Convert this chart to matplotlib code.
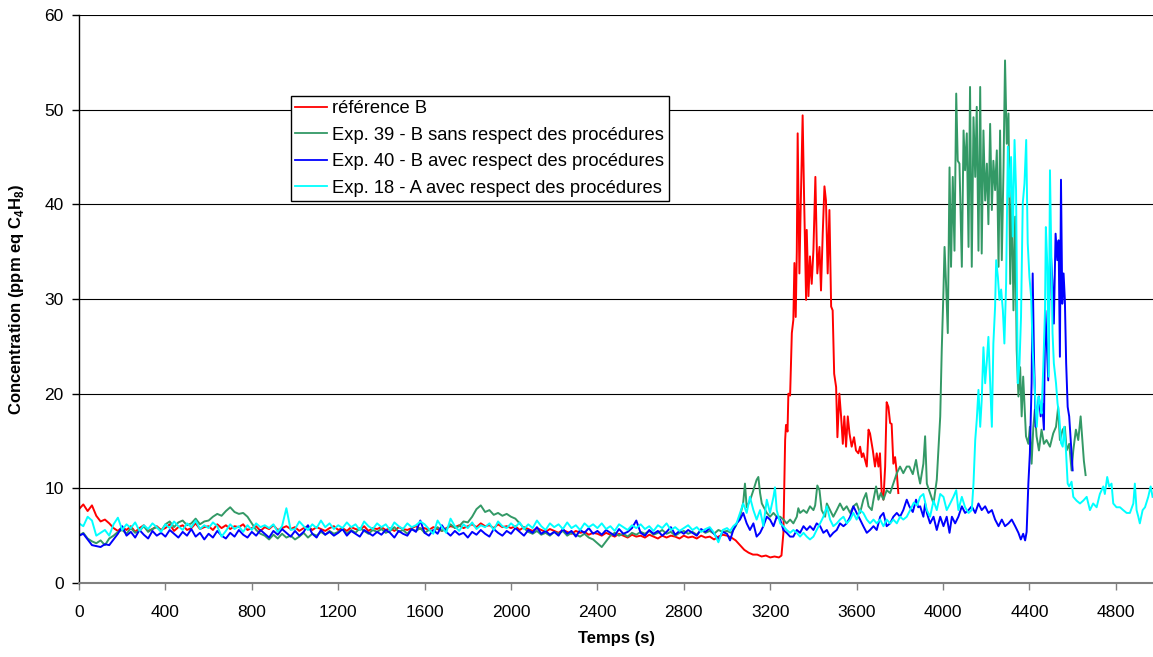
import numpy as np
import matplotlib
matplotlib.use("Agg")
import matplotlib.pyplot as plt

plt.rcParams['font.family'] = ['Liberation Sans', 'DejaVu Sans']
plt.rcParams['mathtext.fontset'] = 'custom'
plt.rcParams['mathtext.rm'] = 'Liberation Sans'
plt.rcParams['mathtext.bf'] = 'Liberation Sans:bold'

# ---- data ----
# common sampling for the quiet part, 0..2980 s every 20 s
t_base = np.arange(0, 3000, 20)

ref_base = [7.8, 8.3, 7.6, 8.2, 7.1, 6.5, 6.7, 6.3, 5.8, 5.5,
            5.9, 5.6, 6.0, 5.4, 5.8, 6.1, 5.5, 5.7, 6.0, 5.6,
            5.8, 6.2, 5.5, 5.9, 6.1, 5.6, 5.8, 6.3, 5.7, 5.9,
            6.0, 5.6, 6.2, 5.8, 6.1, 5.7, 6.0, 5.9, 6.2, 5.6,
            5.8, 6.0, 5.5, 5.9, 5.7, 6.1, 5.6, 5.8, 6.0, 5.7,
            5.9, 5.5, 5.8, 6.0, 5.6, 5.9, 5.7, 5.5, 5.8, 6.0,
            5.6, 5.8, 5.5, 5.9, 5.7, 5.6, 6.0, 5.5, 5.8, 5.7,
            5.9, 5.6, 5.8, 5.5, 5.9, 5.7, 5.6, 5.8, 6.0, 5.7,
            5.8, 5.6, 5.9, 5.7, 5.5, 5.8, 6.0, 5.9, 6.1, 5.8,
            6.0, 6.2, 5.9, 6.3, 6.0, 6.1, 5.8, 6.2, 5.9, 6.0,
            5.8, 6.0, 5.6, 5.9, 5.7, 5.5, 5.8, 5.6, 5.4, 5.7,
            5.5, 5.3, 5.6, 5.4, 5.2, 5.5, 5.3, 5.4, 5.1, 5.3,
            5.2, 5.0, 5.3, 5.1, 4.9, 5.2, 5.0, 4.8, 5.1, 4.9,
            5.0, 4.8, 5.1, 4.9, 4.7, 5.0, 4.8, 5.0, 4.9, 4.7,
            5.0, 4.8, 4.9, 4.7, 5.0, 4.8, 4.9, 4.6, 4.9, 5.1]
ref_t_peak = [3000, 3020, 3040, 3060, 3080, 3100, 3120, 3140, 3160, 3180,
              3200, 3220, 3240, 3252, 3261, 3269, 3273, 3280, 3284, 3292,
              3300, 3307, 3312, 3318, 3323, 3327, 3335, 3341, 3350, 3357,
              3366, 3369, 3377, 3384, 3392, 3400, 3409, 3418, 3428, 3435,
              3443, 3451, 3458, 3466, 3474, 3482, 3489, 3496, 3505, 3511,
              3520, 3528, 3536, 3543, 3551, 3559, 3567, 3577, 3588, 3597,
              3608, 3616, 3624, 3631, 3639, 3647, 3655, 3662, 3675, 3685,
              3693, 3701, 3708, 3716, 3724, 3732, 3739, 3747, 3755, 3762,
              3770, 3778, 3786, 3793]
ref_v_peak = [5.0, 4.8, 4.5, 4.0, 3.5, 3.2, 3.0, 3.0, 2.8, 2.9,
              2.7, 2.8, 2.7, 2.9, 5.3, 15.1, 16.7, 16.0, 20.0, 19.8,
              26.4, 27.8, 33.8, 28.1, 35.0, 47.5, 32.7, 39.7, 49.4, 40.4,
              29.9, 37.3, 30.3, 34.5, 31.6, 35.2, 42.9, 32.7, 35.5, 30.9,
              36.9, 41.9, 40.4, 32.7, 39.4, 29.2, 28.8, 22.1, 20.7, 15.4,
              20.0, 17.6, 14.7, 17.6, 14.4, 17.6, 15.8, 14.4, 15.4, 14.0,
              13.7, 14.4, 13.3, 13.7, 13.0, 12.3, 16.2, 15.8, 14.0, 12.3,
              13.7, 12.3, 13.7, 9.5, 8.8, 12.3, 19.1, 18.6, 16.9, 16.8,
              12.6, 13.3, 11.6, 9.5]

e39_base = [5.0, 5.3, 4.7, 4.4, 4.2, 4.5, 4.0, 4.7, 5.0, 5.4,
            5.6, 5.2, 5.8, 5.3, 5.5, 6.0, 5.4, 5.7, 5.9, 5.5,
            6.2, 6.5, 5.9, 6.4, 6.6, 6.1, 6.3, 6.8, 6.2, 6.5,
            6.6, 7.0, 7.3, 7.1, 7.6, 8.0, 7.5, 7.3, 7.4, 7.0,
            6.3, 5.6, 5.2, 5.0, 4.6, 5.1, 4.7, 5.2, 4.8, 5.0,
            4.6, 4.9, 5.3, 4.8, 5.2, 5.0, 5.4, 5.1, 5.5, 5.2,
            5.4, 5.7, 5.2, 5.6, 5.3, 5.8, 5.5, 5.2, 5.6, 5.4,
            5.7, 5.3, 5.5, 5.9, 5.4, 5.6, 5.2, 5.7, 5.5, 5.8,
            5.3, 5.6, 5.4, 5.9, 5.5, 5.7, 6.2, 5.8, 6.0, 6.5,
            6.4, 7.0, 7.8, 8.2, 7.5, 7.7, 7.2, 7.4, 7.1, 7.3,
            7.0, 6.8, 6.3, 5.8, 5.4, 5.2, 5.5, 5.1, 5.3, 5.0,
            5.4, 5.2, 5.5, 5.0, 5.3, 5.1, 4.9, 5.2, 4.8, 4.6,
            4.2, 3.8, 4.4, 5.0, 5.3, 5.0, 5.2, 4.9, 5.3, 5.1,
            5.4, 5.2, 5.5, 5.1, 5.3, 5.6, 5.2, 5.4, 5.0, 5.3,
            5.5, 5.2, 5.4, 5.1, 5.6, 5.3, 5.5, 5.2, 5.6, 5.4]
e39_t_peak = [3000, 3020, 3040, 3060, 3075, 3083, 3091, 3106, 3122, 3137,
              3145, 3153, 3161, 3168, 3184, 3199, 3215, 3230, 3246, 3261,
              3276, 3292, 3307, 3323, 3330, 3338, 3354, 3369, 3384, 3400,
              3408, 3418, 3428, 3438, 3454, 3462, 3477, 3492, 3508, 3523,
              3539, 3554, 3570, 3585, 3600, 3616, 3631, 3644, 3655, 3670,
              3678, 3690, 3701, 3712, 3724, 3739, 3755, 3770, 3786, 3801,
              3816, 3832, 3844, 3860, 3875, 3885, 3894, 3909, 3917, 3925,
              3940, 3956, 3971, 3987, 3994, 4002, 4007, 4014, 4022, 4030,
              4037, 4045, 4053, 4061, 4068, 4076, 4087, 4095, 4102, 4110,
              4118, 4125, 4133, 4141, 4149, 4156, 4164, 4172, 4179, 4187,
              4195, 4203, 4210, 4218, 4226, 4233, 4241, 4249, 4257, 4264,
              4272, 4280, 4287, 4295, 4303, 4311, 4318, 4326, 4334, 4341,
              4349, 4357, 4364, 4371, 4384, 4395, 4402, 4410, 4418, 4425,
              4433, 4444, 4456, 4467, 4479, 4495, 4510, 4523, 4533, 4541,
              4554, 4564, 4572, 4584, 4595, 4603, 4615, 4626, 4637, 4645,
              4652, 4660]
e39_v_peak = [5.5, 5.3, 6.0, 7.0, 8.5, 10.5, 8.0, 8.7, 9.8, 10.9,
              11.2, 9.5, 8.4, 8.1, 7.4, 7.0, 7.4, 7.0, 7.0, 6.7,
              6.3, 6.7, 6.3, 7.0, 7.9, 7.4, 7.7, 7.4, 8.1, 7.7,
              8.2, 10.3, 9.8, 7.7, 7.0, 8.4, 7.7, 7.0, 7.7, 8.4,
              7.7, 8.1, 7.4, 8.1, 8.4, 7.4, 8.8, 9.5, 8.1, 7.7,
              8.8, 10.2, 8.8, 9.5, 8.8, 9.8, 9.5, 10.5, 11.6, 12.3,
              11.6, 12.3, 12.3, 11.5, 13.0, 11.5, 10.5, 12.6, 15.5, 10.5,
              9.5, 8.4, 10.9, 17.6, 24.6, 30.9, 35.5, 31.6, 26.4, 43.9,
              33.4, 42.9, 35.1, 51.7, 44.6, 44.3, 33.4, 47.8, 43.6, 47.5,
              35.5, 52.4, 33.4, 49.2, 42.9, 50.3, 35.1, 52.4, 34.8, 47.8,
              40.4, 44.3, 37.9, 48.5, 39.4, 44.6, 41.5, 45.7, 33.4, 47.8,
              34.1, 43.9, 55.2, 46.4, 49.6, 31.6, 41.5, 28.8, 38.7, 24.6,
              19.7, 22.8, 17.6, 21.8, 15.5, 14.7, 16.5, 12.6, 16.5, 18.3,
              15.5, 14.0, 16.2, 14.7, 15.1, 14.4, 15.8, 16.5, 18.6, 15.1,
              16.2, 16.5, 14.0, 14.7, 11.9, 14.0, 16.2, 15.1, 17.6, 15.1,
              12.9, 11.4]

e40_base = [5.0, 5.2, 4.6, 4.0, 3.9, 3.8, 4.1, 4.0, 4.6, 5.2,
            6.0, 5.0, 5.4, 4.8, 5.6, 5.1, 4.7, 5.5, 5.0, 5.3,
            4.9, 5.6, 5.2, 4.8, 5.4, 5.0, 5.7, 4.9, 5.3, 4.6,
            5.2, 4.8, 5.5, 5.0, 4.7, 5.3, 4.9, 5.6, 5.1, 4.8,
            5.4, 5.0, 5.6, 5.2, 4.8, 5.5, 5.1, 5.7, 5.3, 4.9,
            5.5, 5.0, 5.4, 6.1, 5.2, 4.8, 5.6, 5.1, 5.4, 5.0,
            5.3, 5.7, 5.0, 5.5, 5.2, 4.9, 5.6, 5.3, 5.0, 5.4,
            5.1, 5.6, 5.3, 4.8, 5.5, 5.2, 5.0, 5.7, 5.4, 6.6,
            5.3, 5.0, 5.6, 5.2, 6.1, 5.4, 5.0, 5.5, 5.1, 5.3,
            4.8, 5.4, 5.1, 5.6, 5.2, 4.9, 5.7, 5.3, 5.0, 5.5,
            5.2, 5.8, 5.4, 5.0, 5.6, 5.3, 5.9, 5.2, 5.5, 5.1,
            5.4, 5.0, 5.7, 5.2, 5.5, 4.9, 5.6, 5.3, 5.8, 5.2,
            5.5, 5.1, 5.6, 5.3, 5.0, 5.7, 5.2, 5.4, 5.8, 6.6,
            5.3, 5.0, 5.6, 5.2, 5.5, 5.0, 5.4, 5.9, 5.1, 5.5,
            5.2, 5.6, 5.3, 5.0, 5.7, 5.4, 5.8, 5.2, 4.6, 5.4]
e40_t_peak = [3000, 3014, 3029, 3044, 3060, 3075, 3091, 3106, 3122, 3137,
              3153, 3168, 3184, 3199, 3215, 3230, 3246, 3261, 3276, 3292,
              3307, 3323, 3338, 3354, 3369, 3384, 3400, 3415, 3431, 3446,
              3462, 3477, 3492, 3508, 3523, 3539, 3554, 3570, 3585, 3600,
              3616, 3631, 3647, 3662, 3678, 3693, 3709, 3724, 3739, 3755,
              3770, 3786, 3801, 3816, 3832, 3844, 3860, 3875, 3885, 3894,
              3909, 3917, 3925, 3940, 3956, 3971, 3987, 4002, 4017, 4030,
              4041, 4056, 4071, 4087, 4102, 4118, 4133, 4149, 4164, 4179,
              4195, 4210, 4226, 4241, 4257, 4272, 4287, 4303, 4318, 4334,
              4349, 4360, 4371, 4380, 4387, 4395, 4402, 4410, 4415, 4421,
              4429, 4436, 4444, 4452, 4459, 4467, 4473, 4479, 4487, 4492,
              4498, 4506, 4513, 4521, 4529, 4535, 4541, 4546, 4552, 4558,
              4564, 4570, 4577, 4584, 4592, 4600]
e40_v_peak = [5.2, 4.5, 5.6, 6.3, 6.7, 7.4, 6.3, 5.6, 6.3, 4.9,
              5.3, 6.0, 7.0, 6.7, 6.0, 7.0, 6.7, 5.6, 5.3, 4.9,
              4.9, 5.6, 5.3, 6.0, 5.6, 6.0, 5.6, 6.3, 6.0, 5.3,
              5.6, 4.9, 5.3, 5.6, 6.3, 6.0, 6.3, 7.0, 8.1, 7.4,
              6.7, 6.0, 5.3, 5.6, 6.0, 5.6, 7.0, 7.4, 6.0, 6.3,
              7.0, 7.4, 7.0, 7.7, 8.8, 8.1, 7.5, 8.8, 8.0, 8.1,
              7.0, 8.4, 7.4, 6.3, 7.0, 5.6, 7.0, 6.0, 7.0, 5.3,
              7.0, 6.3, 7.0, 8.1, 7.4, 7.7, 8.1, 7.4, 8.4, 7.7,
              8.1, 7.4, 7.7, 6.7, 6.0, 6.7, 6.0, 6.3, 6.7, 6.0,
              5.3, 4.6, 5.2, 4.5, 5.4, 10.5, 13.7, 21.1, 32.7, 23.9,
              16.5, 18.3, 19.7, 17.6, 19.0, 16.2, 28.8, 26.0, 21.4, 29.9,
              35.2, 32.0, 27.4, 36.9, 34.1, 36.2, 23.9, 42.6, 29.5, 32.7,
              29.9, 23.2, 18.6, 17.6, 14.7, 11.9]

e18_base = [6.3, 6.0, 7.0, 6.6, 5.0, 5.3, 5.6, 5.0, 6.2, 6.9,
            5.6, 6.2, 5.8, 6.4, 5.5, 6.1, 5.7, 6.3, 5.9, 5.4,
            6.2, 5.8, 6.5, 6.0, 5.6, 6.3, 5.9, 6.6, 5.7, 6.1,
            5.8, 6.4, 6.0, 4.9, 5.5, 6.2, 5.7, 6.0, 5.4, 6.1,
            5.6, 6.3, 5.9, 6.1, 5.8, 6.2, 5.4, 6.0, 7.9, 5.6,
            5.7, 6.5, 6.0, 5.6, 6.2, 5.8, 6.6, 5.9, 6.3, 5.7,
            6.1, 5.8, 6.4, 5.9, 6.2, 5.6, 6.5, 6.0, 5.7, 6.3,
            5.9, 6.2, 5.6, 6.4, 6.0, 5.7, 6.3, 5.9, 6.1, 6.5,
            6.2, 5.7, 5.2, 6.6, 5.9, 5.3, 6.8, 6.0, 5.5, 6.2,
            5.8, 6.4, 5.7, 6.1, 5.9, 6.3, 5.6, 6.5, 6.0, 5.8,
            6.3, 5.9, 6.4, 5.7, 6.2, 5.8, 6.6, 6.0, 5.6, 6.3,
            5.9, 6.2, 5.7, 6.4, 5.8, 6.1, 5.6, 6.3, 5.9, 6.2,
            5.8, 6.3, 5.7, 6.0, 5.5, 6.2, 5.9, 5.6, 6.1, 5.8,
            6.2, 5.7, 6.0, 5.5, 6.1, 5.8, 6.3, 5.6, 5.9, 5.5,
            5.8, 6.1, 5.6, 5.9, 5.4, 5.7, 5.9, 5.3, 4.3, 5.6]
e18_t_peak = [3000, 3014, 3029, 3044, 3060, 3075, 3091, 3106, 3122, 3137,
              3153, 3168, 3184, 3199, 3215, 3222, 3230, 3246, 3261, 3276,
              3292, 3307, 3323, 3338, 3354, 3369, 3384, 3400, 3415, 3431,
              3446, 3462, 3477, 3492, 3508, 3523, 3539, 3554, 3570, 3585,
              3600, 3616, 3631, 3647, 3662, 3678, 3693, 3709, 3724, 3739,
              3755, 3770, 3786, 3801, 3816, 3832, 3850, 3865, 3880, 3894,
              3909, 3925, 3940, 3956, 3971, 3987, 4002, 4017, 4033, 4048,
              4061, 4071, 4087, 4102, 4118, 4133, 4141, 4149, 4156, 4164,
              4172, 4179, 4187, 4195, 4203, 4210, 4218, 4226, 4233, 4241,
              4246, 4254, 4261, 4269, 4277, 4284, 4292, 4300, 4307, 4315,
              4323, 4331, 4338, 4346, 4354, 4361, 4369, 4377, 4385, 4392,
              4400, 4408, 4415, 4423, 4434, 4442, 4449, 4456, 4464, 4472,
              4476, 4483, 4489, 4495, 4501, 4507, 4513, 4523, 4530, 4538,
              4546, 4554, 4561, 4569, 4577, 4584, 4595, 4603, 4618, 4634,
              4649, 4665, 4680, 4695, 4711, 4726, 4742, 4749, 4760, 4769,
              4780, 4788, 4803, 4819, 4834, 4850, 4865, 4881, 4888, 4896,
              4904, 4911, 4924, 4935, 4950, 4961, 4970]
e18_v_peak = [5.8, 5.5, 6.0, 6.3, 7.4, 8.4, 7.4, 9.1, 7.7, 6.7,
              7.7, 6.0, 8.8, 7.4, 9.1, 10.1, 7.7, 6.3, 6.0, 5.6,
              5.3, 5.6, 5.3, 4.9, 5.3, 4.9, 4.6, 4.9, 5.6, 6.3,
              7.0, 8.1, 6.7, 6.0, 6.3, 6.7, 7.0, 6.3, 6.7, 7.4,
              6.7, 7.7, 7.4, 6.7, 6.3, 6.7, 6.3, 6.7, 6.0, 6.7,
              6.3, 6.7, 6.3, 7.0, 6.7, 7.0, 7.8, 8.5, 8.2, 9.1,
              9.4, 7.7, 7.0, 8.7, 7.7, 9.4, 9.1, 7.7, 8.4, 9.1,
              9.8, 7.7, 9.1, 8.0, 7.4, 7.7, 10.5, 15.1, 17.2, 20.4,
              16.5, 19.3, 24.9, 21.1, 23.5, 26.0, 21.1, 16.5, 25.3, 29.2,
              34.1, 32.3, 29.9, 31.0, 28.8, 25.3, 31.6, 46.1, 40.8, 45.0,
              36.6, 46.8, 41.5, 21.1, 23.2, 28.1, 40.1, 42.2, 46.8, 35.9,
              32.3, 30.2, 24.6, 21.1, 16.5, 19.7, 19.0, 17.9, 22.8, 28.8,
              37.6, 33.4, 21.8, 43.6, 35.2, 26.4, 23.2, 21.1, 19.0, 17.6,
              14.8, 14.4, 16.5, 14.0, 10.5, 10.2, 10.7, 9.1, 8.7, 8.4,
              8.7, 9.1, 7.7, 8.4, 8.0, 9.4, 10.2, 9.4, 11.2, 10.2,
              10.5, 8.4, 8.0, 8.0, 7.7, 7.4, 7.4, 8.4, 10.5, 7.7,
              7.0, 6.3, 7.7, 8.0, 9.1, 10.2, 9.1]

labels = ['référence B',
          'Exp. 39 - B sans respect des procédures',
          'Exp. 40 - B avec respect des procédures',
          'Exp. 18 - A avec respect des procédures']
colors = ['#FF0000', '#339966', '#0000FF', '#00FFFF']

series = [
    (np.concatenate([t_base, ref_t_peak]), ref_base + ref_v_peak),
    (np.concatenate([t_base, e39_t_peak]), e39_base + e39_v_peak),
    (np.concatenate([t_base, e40_t_peak]), e40_base + e40_v_peak),
    (np.concatenate([t_base, e18_t_peak]), e18_base + e18_v_peak),
]

# ---- figure ----
fig = plt.figure(figsize=(11.53, 6.57), dpi=100)
ax = fig.add_axes([79 / 1153, 74 / 657, 1074 / 1153, 568 / 657])

for (t, v), lab, col in zip(series, labels, colors):
    ax.plot(t, v, color=col, lw=1.4, label=lab)

ax.set_xlim(0, 4972)
ax.set_ylim(0, 60)
ax.set_xticks(np.arange(0, 4801, 400))
ax.set_yticks(np.arange(0, 61, 10))
ax.yaxis.grid(True, color='black', lw=0.8)
ax.set_axisbelow(True)

for s in ['top', 'right']:
    ax.spines[s].set_visible(False)
ax.spines['left'].set_color('black')
ax.spines['left'].set_linewidth(1.0)
ax.spines['bottom'].set_color('#808080')
ax.spines['bottom'].set_linewidth(1.5)

ax.tick_params(axis='x', direction='out', length=5, width=1, color='#808080',
               labelsize=12.5, pad=11)
ax.tick_params(axis='y', direction='out', length=5, width=1, color='black',
               labelsize=12.5, pad=6)

ax.set_xlabel('Temps (s)', fontsize=12, fontweight='bold')
ax.set_ylabel(r'Concentration (ppm eq C$_\mathbf{4}$H$_\mathbf{8}$)',
              fontsize=12, fontweight='bold')
ax.xaxis.set_label_coords(0.5, -0.085)
ax.yaxis.set_label_coords(-0.049, 0.5)

leg = ax.legend(loc='upper left', bbox_to_anchor=(0.197, 0.858),
                borderaxespad=0, fontsize=13.2, frameon=True, fancybox=False,
                edgecolor='black', framealpha=1, handlelength=1.75,
                handletextpad=0.26, labelspacing=0.52, borderpad=0.25)
leg.get_frame().set_linewidth(1.0)
for h in leg.get_lines():
    h.set_linewidth(1.3)

fig.savefig('out.png', dpi=100)
